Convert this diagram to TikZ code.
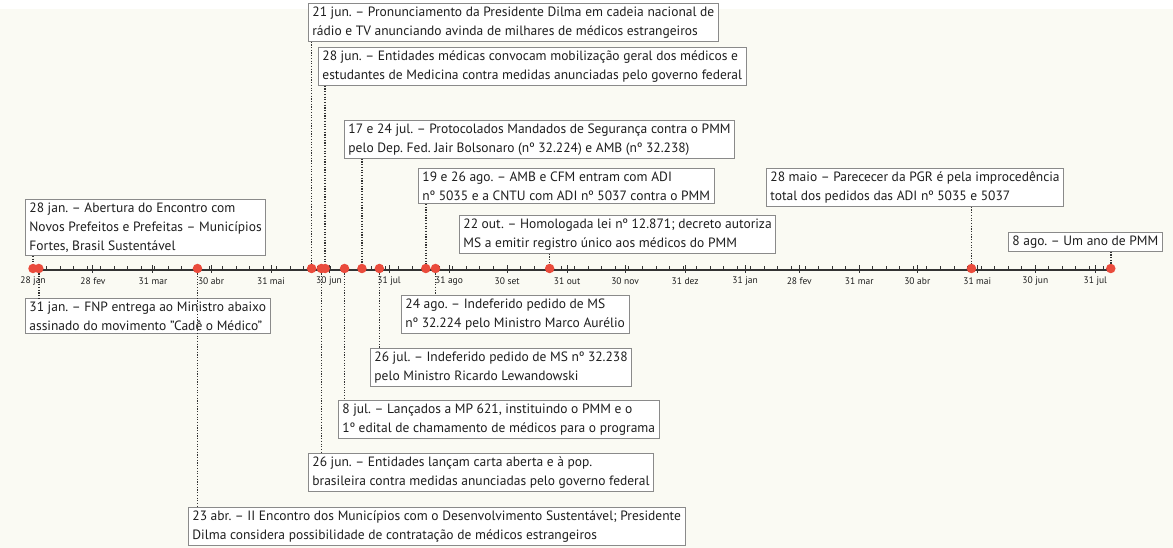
\documentclass[tikz,border=0pt]{standalone}
\usepackage{fontspec}
\setmainfont{PT Sans}
\definecolor{bgc}{HTML}{FAFAF3}
\definecolor{boxgray}{HTML}{8A8A8A}
\definecolor{textc}{HTML}{1E1E1E}
\definecolor{dotred}{HTML}{EA4B3C}
\definecolor{connc}{HTML}{333333}
\begin{document}
\frenchspacing
\begin{tikzpicture}[x=1pt,y=-1pt,
  ev/.style={draw=boxgray, line width=0.8pt, fill=white, align=left, inner xsep=4pt, inner ysep=3.2pt,
    font=\fontsize{13.5}{19}\selectfont, text=textc, anchor=north west},
  dot/.style={circle, fill=dotred, inner sep=0pt, minimum size=9.5pt},
  conn/.style={draw=connc, line width=1.5pt, dash pattern=on 1.2pt off 1.5pt},
  tickmark/.style={draw=connc, line width=1pt},
  lab/.style={font=\fontsize{9.5}{11}\selectfont, text=textc, inner sep=1pt}]
\useasboundingbox (0,0) rectangle (1173,548);
\fill[bgc] (0,0) rectangle (1173,548);
\fill[white] (0,0) rectangle (1173,9);

% axis
\draw[draw=connc, line width=1.3pt] (29,270) -- (1114,270);
\foreach \k in {1,...,79} \draw[tickmark] ({33+1.935*7*\k},270) -- ++(0,-3.5);
\foreach \d/\t [count=\i] in {0/28 jan,31/28 fev,62/31 mar,92/30 abr,123/31 mai,153/30 jun,184/31 jul,215/31 ago,245/30 set,276/31 out,306/30 nov,337/31 dez,368/31 jan,396/28 fev,427/31 mar,457/30 abr,488/31 mai,518/30 jun,549/31 jul}{
  \draw[tickmark] ({33+1.935*\d},273) -- ++(0,-8);
  \node[lab] (m\i) at ({33+1.935*\d},281) {\t};
}

% event dots
\node[dot] (dH) at ({33+1.935*0},268.5) {};
\node[dot] (dI) at ({33+1.935*3},268.5) {};
\node[dot] (dN) at ({33+1.935*85},268.5) {};
\node[dot] (dA) at ({33+1.935*144},268.5) {};
\node[dot] (dM) at ({33+1.935*149},268.5) {};
\node[dot] (dB) at ({33+1.935*151},268.5) {};
\node[dot] (dL) at ({33+1.935*161},268.5) {};
\node[dot] (dC) at ({33+1.935*170},268.5) {};
\node[dot] (dK) at ({33+1.935*179},268.5) {};
\node[dot] (dD) at ({33+1.935*203},268.5) {};
\node[dot] (dJ) at ({33+1.935*208},268.5) {};
\node[dot] (dE) at ({33+1.935*267},268.5) {};
\node[dot] (dF) at ({33+1.935*485},268.5) {};
\node[dot] (dG) at ({33+1.935*557},268.5) {};

% boxes above
\node[ev] (A) at (308,3) {21 jun. – Pronunciamento da Presidente Dilma em cadeia nacional de\\rádio e TV anunciando avinda de milhares de médicos estrangeiros};
\node[ev] (B) at (318,47) {28 jun. – Entidades médicas convocam mobilização geral dos médicos e\\estudantes de Medicina contra medidas anunciadas pelo governo federal};
\node[ev] (C) at (344,120) {17 e 24 jul. – Protocolados Mandados de Segurança contra o PMM\\pelo Dep. Fed. Jair Bolsonaro (nº 32.224) e AMB (nº 32.238)};
\node[ev] (D) at (418,168) {19 e 26 ago. – AMB e CFM entram com ADI\\nº 5035 e a CNTU com ADI nº 5037 contra o PMM};
\node[ev] (E) at (459,215) {22 out. – Homologada lei nº 12.871; decreto autoriza\\MS a emitir registro único aos médicos do PMM};
\node[ev] (F) at (766,168) {28 maio – Parececer da PGR é pela improcedência\\ total dos pedidos das ADI nº 5035 e 5037};
\node[ev] (G) at (1008,232) {8 ago. – Um ano de PMM};
\node[ev] (H) at (25,199) {28 jan. – Abertura do Encontro com\\Novos Prefeitos e Prefeitas – Municípios\\Fortes, Brasil Sustentável};

% boxes below
\node[ev] (I) at (25,298) {31 jan. – FNP entrega ao Ministro abaixo\\assinado do movimento "Cadê o Médico"};
\node[ev] (J) at (401,295) {24 ago. – Indeferido pedido de MS\\nº 32.224 pelo Ministro Marco Aurélio};
\node[ev] (K) at (370,348) {26 jul. – Indeferido pedido de MS nº 32.238\\pelo Ministro Ricardo Lewandowski};
\node[ev] (L) at (338,400) {8 jul. – Lançados a MP 621, instituindo o PMM e o\\1º edital de chamamento de médicos para o programa};
\node[ev] (M) at (308,453) {26 jun. – Entidades lançam carta aberta e à pop.\\brasileira contra medidas anunciadas pelo governo federal};
\node[ev] (N) at (188,507) {23 abr. – II Encontro dos Municípios com o Desenvolvimento Sustentável; Presidente\\Dilma considera possibilidade de contratação de médicos estrangeiros};

% connectors
\foreach \b in {A,B,C,D,E,F,G,H} \draw[conn] (d\b.north |- \b.south) -- (d\b.north);
\foreach \b in {I,J,K,L,M,N} \draw[conn] (d\b.south) -- (d\b.south |- \b.north);
\end{tikzpicture}
\end{document}
